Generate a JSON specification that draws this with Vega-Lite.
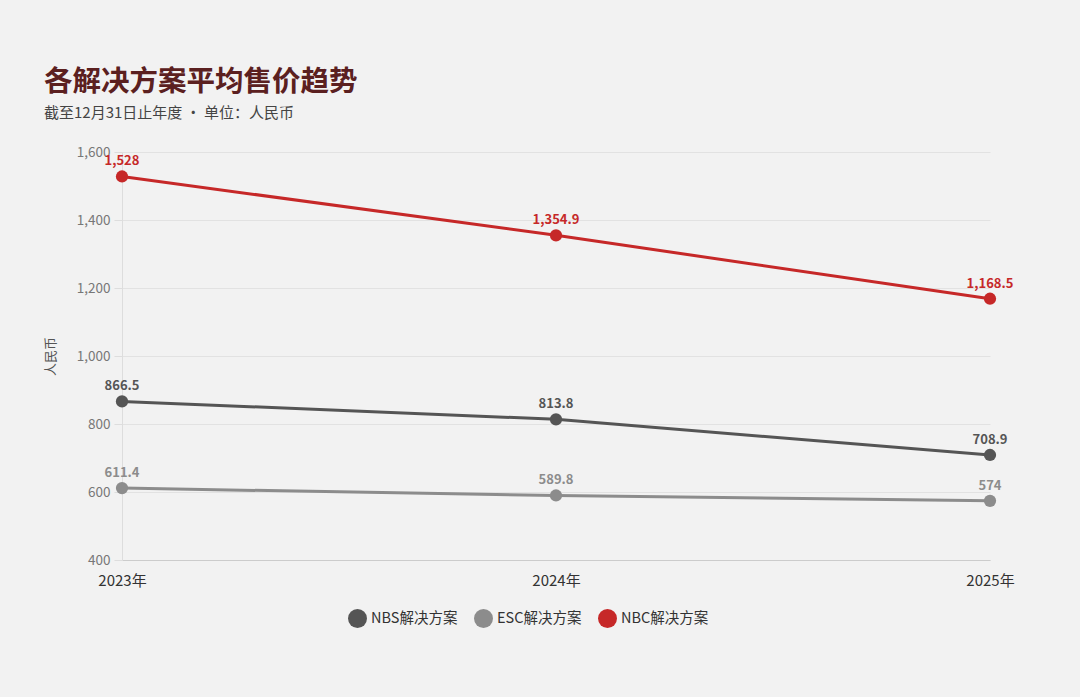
{
  "$schema": "https://vega.github.io/schema/vega-lite/v6.json",
  "width": 868,
  "height": 408,
  "autosize": "none",
  "padding": {"left": 122, "top": 152, "right": 90, "bottom": 137},
  "background": "#f2f2f2",
  "title": {
    "text": "各解决方案平均售价趋势",
    "subtitle": "截至12月31日止年度 · 单位：人民币",
    "anchor": "start",
    "frame": "group",
    "dx": -78,
    "offset": 24,
    "font": "Noto Sans CJK SC",
    "fontSize": 28.5,
    "fontWeight": "bold",
    "color": "#5b2020",
    "subtitleFont": "Noto Sans CJK SC",
    "subtitleFontSize": 15,
    "subtitleColor": "#444444",
    "subtitlePadding": 10
  },
  "data": {
    "values": [
      {"year": "2023年", "series": "NBS解决方案", "price": 866.5},
      {"year": "2024年", "series": "NBS解决方案", "price": 813.8},
      {"year": "2025年", "series": "NBS解决方案", "price": 708.9},
      {"year": "2023年", "series": "ESC解决方案", "price": 611.4},
      {"year": "2024年", "series": "ESC解决方案", "price": 589.8},
      {"year": "2025年", "series": "ESC解决方案", "price": 574},
      {"year": "2023年", "series": "NBC解决方案", "price": 1528},
      {"year": "2024年", "series": "NBC解决方案", "price": 1354.9},
      {"year": "2025年", "series": "NBC解决方案", "price": 1168.5}
    ]
  },
  "encoding": {
    "x": {
      "field": "year",
      "type": "nominal",
      "title": null,
      "scale": {"padding": 0},
      "axis": {
        "labelAngle": 0,
        "labelFontSize": 15,
        "labelColor": "#333333",
        "labelPadding": 13,
        "ticks": false,
        "domainColor": "#cccccc",
        "grid": false
      }
    },
    "y": {
      "field": "price",
      "type": "quantitative",
      "title": "人民币",
      "scale": {"domain": [400, 1600], "nice": false},
      "axis": {
        "values": [400, 600, 800, 1000, 1200, 1400, 1600],
        "format": ",.0f",
        "labelFontSize": 13.5,
        "labelColor": "#777777",
        "labelPadding": 4,
        "tickSize": 8,
        "tickColor": "#dddddd",
        "domainColor": "#dddddd",
        "gridColor": "#e2e2e2",
        "titleFontSize": 13,
        "titleColor": "#555555",
        "titleFontWeight": "normal",
        "titleX": -65,
        "titleY": 204
      }
    },
    "color": {
      "field": "series",
      "type": "nominal",
      "title": null,
      "sort": ["NBS解决方案", "ESC解决方案", "NBC解决方案"],
      "scale": {
        "domain": ["NBS解决方案", "ESC解决方案", "NBC解决方案"],
        "range": ["#555555", "#8c8c8c", "#c62828"]
      },
      "legend": {
        "orient": "none",
        "legendX": 226,
        "legendY": 457,
        "direction": "horizontal",
        "symbolType": "circle",
        "symbolSize": 360,
        "symbolStrokeWidth": 0,
        "labelFontSize": 14.5,
        "labelColor": "#333333",
        "labelOffset": 4,
        "columnPadding": 16
      }
    }
  },
  "layer": [
    {"mark": {"type": "line", "strokeWidth": 3}},
    {"mark": {"type": "point", "filled": true, "size": 150, "opacity": 1}},
    {
      "mark": {"type": "text", "fontSize": 13, "fontWeight": "bold", "baseline": "bottom", "dy": -8},
      "encoding": {
        "text": {"field": "price", "type": "quantitative", "format": ","}
      }
    }
  ],
  "config": {
    "font": "Noto Sans CJK SC",
    "view": {"stroke": null}
  }
}
